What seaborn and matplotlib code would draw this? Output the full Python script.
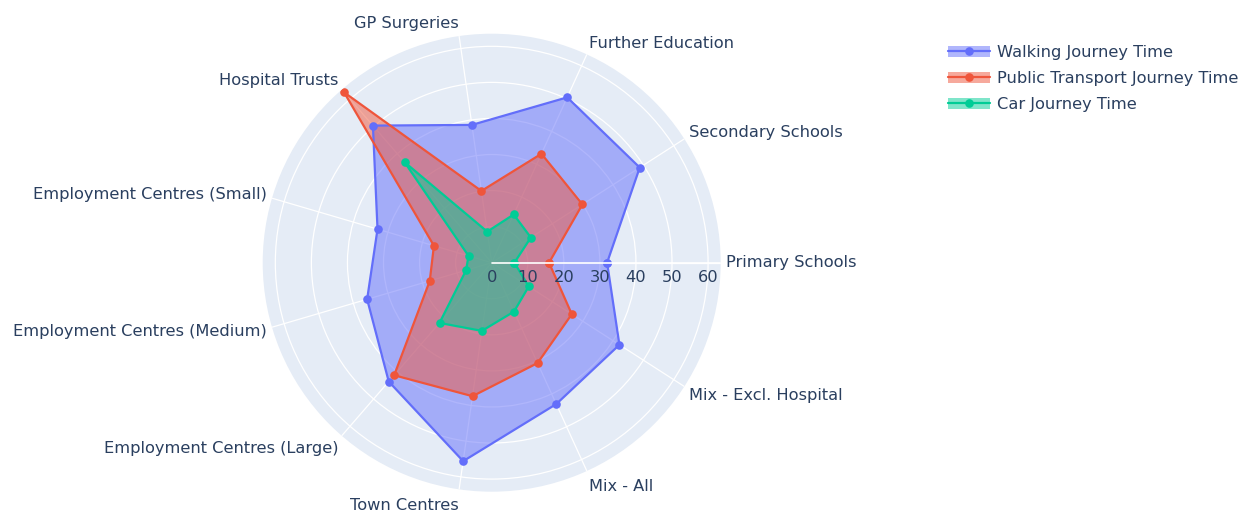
import numpy as np
import pandas as pd
import matplotlib
matplotlib.use("Agg")
import matplotlib.pyplot as plt
from matplotlib.patches import Patch
from matplotlib.lines import Line2D
from matplotlib.legend_handler import HandlerTuple
import seaborn as sns

categories = ["Primary Schools", "Secondary Schools", "Further Education", "GP Surgeries",
              "Hospital Trusts", "Employment Centres (Small)", "Employment Centres (Medium)",
              "Employment Centres (Large)", "Town Centres", "Mix - All", "Mix - Excl. Hospital"]
walking = [32.0, 48.8, 50.4, 38.6, 50.3, 33.0, 36.0, 43.6, 55.6, 43.1, 42.1]
public_transport = [15.9, 29.9, 33.2, 20.1, 62.5, 16.7, 17.9, 41.3, 37.4, 30.6, 26.4]
car = [6.3, 12.9, 14.7, 8.7, 36.9, 6.7, 7.4, 22.1, 19.1, 14.9, 12.2]
series_names = ["Walking Journey Time", "Public Transport Journey Time", "Car Journey Time"]
radial_ticks = [0, 10, 20, 30, 40, 50, 60]
r_max = 63.5

colors = ["#636EFA", "#EF553B", "#00CC96"]
text_color = "#2a3f5f"
bg_color = "#E5ECF6"

sns.set_style("white")
plt.rcParams["font.family"] = ["DejaVu Sans"]
FS = 11.7

W, H = 1245, 511
fig = plt.figure(figsize=(W / 100, H / 100), dpi=100)
cx, cy, R = 491.7, 262.7, 229.0
ax = fig.add_axes([(cx - R) / W, (H - cy - R) / H, 2 * R / W, 2 * R / H], projection="polar")
ax.set_facecolor(bg_color)
ax.spines["polar"].set_visible(False)
ax.set_axisbelow(True)

n = len(categories)
theta = np.arange(n) * 2 * np.pi / n
theta_closed = np.append(theta, 2 * np.pi)

for name, vals, col in zip(series_names, [walking, public_transport, car], colors):
    r_closed = np.append(vals, vals[0])
    ax.fill(theta_closed, r_closed, color=col, alpha=0.5, linewidth=0, zorder=2)
    df = pd.DataFrame({"theta": theta_closed, "r": r_closed})
    sns.lineplot(data=df, x="theta", y="r", ax=ax, sort=False, estimator=None,
                 color=col, linewidth=1.6, marker="o", markersize=6.2,
                 markeredgewidth=0, zorder=3)

ax.set_ylim(0, r_max)
ax.set_xticks(theta)
ax.set_xticklabels([])
ax.set_yticks(radial_ticks[1:])
ax.set_yticklabels([])
ax.set_xlabel("")
ax.set_ylabel("")
ax.grid(True, color="white", linewidth=0.9)
ax.tick_params(length=0)

# radial axis line
ax.plot([0, 0], [0, r_max], color="white", linewidth=1.2, zorder=4)

px = 0.72  # points per pixel
for t in radial_ticks:
    ax.annotate(str(t), xy=(0, t), xytext=(0, -14.5 * px), textcoords="offset points",
                ha="center", va="center", fontsize=FS, color=text_color, zorder=5)

for ang, cat in zip(theta, categories):
    c, s = np.cos(ang), np.sin(ang)
    if abs(c) < 0.05:
        ha = "center"
    else:
        ha = "left" if c > 0 else "right"
    dy = s * (12.5 if s > 0 else 16.5)
    ax.annotate(cat, xy=(ang, r_max), xytext=(5 * c * px, dy * px), textcoords="offset points",
                ha=ha, va="center", fontsize=FS, color=text_color, annotation_clip=False)

handles = []
for col in colors:
    handles.append((Patch(facecolor=col, alpha=0.5, edgecolor="none"),
                    Line2D([], [], color=col, linewidth=1.6, marker="o", markersize=6.2,
                           markeredgewidth=0)))
leg = fig.legend(handles, series_names, handler_map={tuple: HandlerTuple(ndivide=1, pad=0)},
                 loc="upper left", bbox_to_anchor=(948 / W, 1 - 45 / H), frameon=False,
                 fontsize=FS, handlelength=2.6, handletextpad=0.42, labelspacing=0.68,
                 borderpad=0, borderaxespad=0)
for t in leg.get_texts():
    t.set_color(text_color)

fig.savefig("out.png", dpi=100)
